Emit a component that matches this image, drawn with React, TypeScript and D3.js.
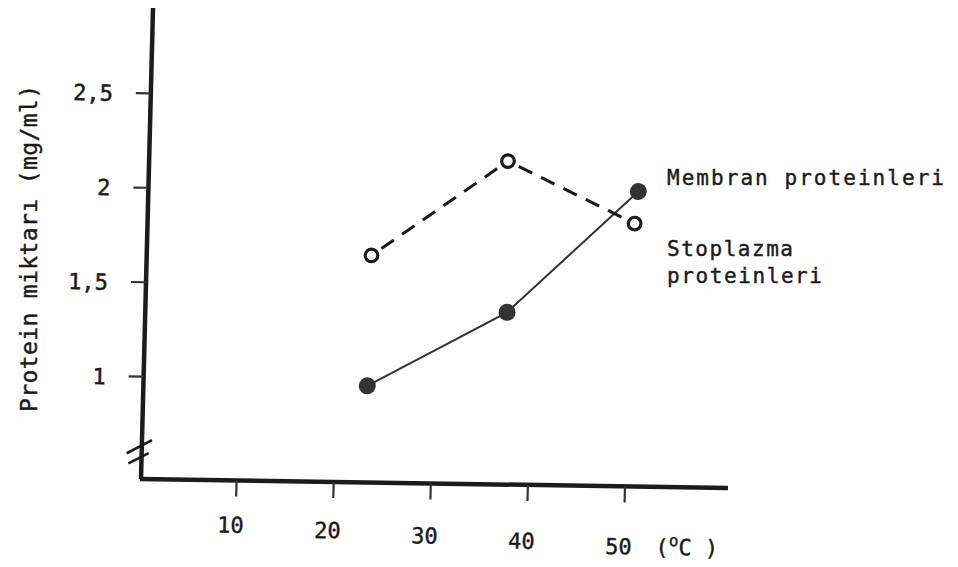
import React from "react";
import * as d3 from "d3";

// values
const membranTemps = [23.2, 37.4, 50.6];
const membranValues = [0.97, 1.37, 2.02];
const sitoTemps = [23.3, 37.1, 50.3];
const sitoValues = [1.66, 2.17, 1.85];

const xTicks = [10, 20, 30, 40, 50];
const yTicks = [1, 1.5, 2, 2.5];
const yTickLabels = ["1", "1,5", "2", "2,5"];
const yTitle = "Protein miktarı (mg/ml)";
const membranLabel = "Membran proteinleri";
const sitoLabel = ["Stoplazma", "proteinleri"];

const W = 958;
const H = 567;
const FONT = "'DejaVu Sans Mono', 'Liberation Mono', monospace";
const INK = "#1a1a1a";

// the hand drawn axes lean a little, so the plot group gets a small skew
const ORIGIN = [141, 479];
const SKEW_X = -0.0255;
const SKEW_Y = 0.0153;

const App = () => {
  const xScale = d3.scaleLinear().domain([0, 60]).range([-1.5, 581.1]);
  const yScale = d3.scaleLinear().domain([1, 2.5]).range([-102.3, -385.7]);

  const membran = membranTemps.map((t, i) => [xScale(t), yScale(membranValues[i])]);
  const sito = sitoTemps.map((t, i) => [xScale(t), yScale(sitoValues[i])]);

  const line = d3.line();

  // dashed pieces stop short of the open circles
  const gap = 12;
  const dashSegs = d3.pairs(sito).map(([p, q]) => {
    const dx = q[0] - p[0];
    const dy = q[1] - p[1];
    const len = Math.hypot(dx, dy);
    const ux = dx / len;
    const uy = dy / len;
    return [p[0] + ux * gap, p[1] + uy * gap, q[0] - ux * gap, q[1] - uy * gap];
  });

  const labelBase = (lx) => 48.5 + 0.04 * lx;

  return (
    <svg
      width={W}
      height={H}
      style={{ position: "absolute", left: 0, top: 0, background: "#fff" }}
    >
      <g transform={`matrix(1, ${SKEW_Y}, ${SKEW_X}, 1, ${ORIGIN[0]}, ${ORIGIN[1]})`}>
        {/* axes */}
        <line x1={0} y1={0} x2={0} y2={-471} stroke="#1c1c1c" strokeWidth={4.5} />
        <line x1={-1} y1={0} x2={587} y2={0} stroke="#1c1c1c" strokeWidth={4.5} />

        {/* axis break */}
        <line x1={-15} y1={-25.5} x2={10} y2={-39} stroke={INK} strokeWidth={2.6} />
        <line x1={-13} y1={-15.5} x2={7} y2={-26} stroke={INK} strokeWidth={2.6} />

        {yTicks.map((v, i) => (
          <g key={v}>
            <line x1={-15} y1={yScale(v)} x2={0} y2={yScale(v)} stroke="#333" strokeWidth={2.2} />
            <text
              x={-38}
              y={yScale(v) + 8}
              textAnchor="end"
              fontFamily={FONT}
              fontSize={22}
              fill={INK}
              stroke={INK}
              strokeWidth={0.5}
            >
              {yTickLabels[i]}
            </text>
          </g>
        ))}

        {xTicks.map((t) => (
          <g key={t}>
            <line x1={xScale(t)} y1={0} x2={xScale(t)} y2={16} stroke="#333" strokeWidth={2.2} />
            <text
              x={xScale(t) - 5}
              y={labelBase(xScale(t))}
              textAnchor="middle"
              fontFamily={FONT}
              fontSize={22}
              fill={INK}
              stroke={INK}
              strokeWidth={0.4}
            >
              {t}
            </text>
          </g>
        ))}
        <text
          x={xScale(50) + 32}
          y={labelBase(xScale(50))}
          fontFamily={FONT}
          fontSize={22}
          fill={INK}
          stroke={INK}
          strokeWidth={0.4}
        >
          (<tspan fontSize={16} dy={-9}>o</tspan>
          <tspan dy={9}>C</tspan> )
        </text>

        {/* membran: filled dots, solid line */}
        <path d={line(membran)} fill="none" stroke="#333" strokeWidth={2} />
        {membran.map((p, i) => (
          <circle key={i} cx={p[0]} cy={p[1]} r={8.5} fill="#333" />
        ))}

        {/* sitoplazma: open dots, dashed line */}
        {dashSegs.map((s, i) => (
          <line
            key={i}
            x1={s[0]}
            y1={s[1]}
            x2={s[2]}
            y2={s[3]}
            stroke={INK}
            strokeWidth={3}
            strokeDasharray="15 10"
          />
        ))}
        {sito.map((p, i) => (
          <circle key={i} cx={p[0]} cy={p[1]} r={6.3} fill="#fff" stroke={INK} strokeWidth={3.2} />
        ))}
      </g>

      <text
        transform="translate(37, 248.5) rotate(-90)"
        textAnchor="middle"
        fontFamily={FONT}
        fontSize={23}
        fill={INK}
        stroke={INK}
        strokeWidth={0.4}
        textLength={327}
        lengthAdjust="spacing"
      >
        {yTitle}
      </text>

      {[
        { t: membranLabel, y: 185, len: 277 },
        { t: sitoLabel[0], y: 256, len: 126 },
        { t: sitoLabel[1], y: 283, len: 155 },
      ].map((d) => (
        <text
          key={d.t + d.y}
          x={667}
          y={d.y}
          fontFamily={FONT}
          fontSize={21}
          fill={INK}
          stroke={INK}
          strokeWidth={0.4}
          textLength={d.len}
          lengthAdjust="spacing"
        >
          {d.t}
        </text>
      ))}
    </svg>
  );
};

export default App;
